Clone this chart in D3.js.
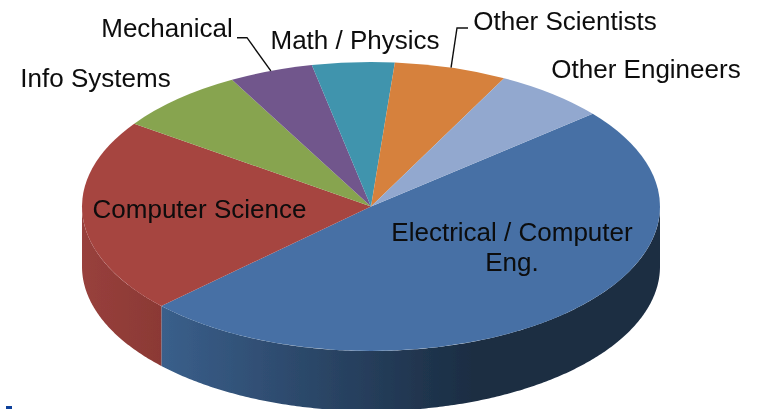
<!DOCTYPE html>
<html><head><meta charset="utf-8">
<script src="https://cdnjs.cloudflare.com/ajax/libs/d3/7.8.5/d3.min.js"></script>
<style>html,body{margin:0;padding:0;background:#fff}svg{display:block}</style>
</head><body><svg id="c" width="758" height="409"></svg>
<script>
const categories=["Electrical / Computer Eng.","Computer Science","Info Systems","Mechanical","Math / Physics","Other Scientists","Other Engineers"];
const values=[49,21.8,7.3,4.7,4.6,6.3,6.3];
const colors=["#4670a5","#a64441","#87a44f","#71568c","#3f94ad","#d6813c","#92a8cf"];
const sideStops=[["#3a5f8b","#1b2d43"],["#98403c","#8b3935"]];

const cx=371,cy=206.5,rx=289,ry=144.5,depth=60;
const startDeg=50.1;
const svg=d3.select("#c");
const defs=svg.append("defs");
defs.append("filter").attr("id","soft").append("feGaussianBlur").attr("stdDeviation",0.45);

const pie=d3.pie().sort(null).value(d=>d)
  .startAngle(startDeg*Math.PI/180).endAngle((startDeg+360)*Math.PI/180);
const arcs=pie(values);
const arc=d3.arc().innerRadius(0).outerRadius(rx);
const px=a=>cx+rx*Math.sin(a), py=a=>cy-ry*Math.cos(a);

const g=svg.append("g").attr("filter","url(#soft)");

// visible side wall: lower half of the ellipse, extruded downward
const side=d3.area().x(d=>px(d)).y0(d=>py(d)).y1(d=>py(d)+depth);
arcs.forEach((s,i)=>{
  const lo=Math.max(s.startAngle,Math.PI/2), hi=Math.min(s.endAngle,Math.PI*1.5);
  if(hi<=lo)return;
  const id="side"+i;
  const grad=defs.append("linearGradient").attr("id",id)
    .attr("gradientUnits","userSpaceOnUse").attr("y1",0).attr("y2",0);
  if(i===0){
    grad.attr("x1",px(s.endAngle)).attr("x2",px(s.endAngle)+310);
  }else{
    grad.attr("x1",cx-rx).attr("x2",px(s.startAngle));
  }
  grad.append("stop").attr("offset",0).attr("stop-color",sideStops[i][0]);
  grad.append("stop").attr("offset",1).attr("stop-color",sideStops[i][1]);
  g.append("path").attr("d",side(d3.range(lo,hi,0.01).concat([hi]))).attr("fill",`url(#${id})`);
});

// top face
g.append("g").attr("transform",`translate(${cx},${cy}) scale(1,${ry/rx})`)
 .selectAll("path").data(arcs).join("path")
 .attr("d",arc).attr("fill",(d,i)=>colors[i]);

// leader lines end on the middle of their slice's rim
const line=d3.line().x(d=>d[0]).y(d=>d[1]);
const leaders=[[3,[[237,37.7],[247,37.7]]],[5,[[468,28],[457,28]]]];
leaders.forEach(([i,pts])=>{
  const m=(arcs[i].startAngle+arcs[i].endAngle)/2;
  g.append("path").attr("d",line(pts.concat([[px(m),py(m)]])))
   .attr("fill","none").attr("stroke","#111").attr("stroke-width",1.4);
});

// labels
const labels=[
 {i:0,lines:["Electrical / Computer","Eng."],x:512,y:241,a:"middle"},
 {i:1,lines:[categories[1]],x:199.5,y:218,a:"middle"},
 {i:2,lines:[categories[2]],x:95.5,y:87,a:"middle"},
 {i:3,lines:[categories[3]],x:167,y:37,a:"middle"},
 {i:4,lines:[categories[4]],x:355,y:49,a:"middle"},
 {i:5,lines:[categories[5]],x:565,y:30,a:"middle"},
 {i:6,lines:[categories[6]],x:646,y:78,a:"middle"}];
labels.forEach(l=>{
  const t=g.append("text").attr("text-anchor",l.a)
   .attr("font-family","'Liberation Sans',Arial,sans-serif").attr("font-size",26).attr("fill","#0a0a0a");
  l.lines.forEach((s,k)=>t.append("tspan").attr("x",l.x).attr("y",l.y+k*30).text(s));
});

// small blue tick at the bottom-left corner
g.append("line").attr("x1",6).attr("x2",12).attr("y1",407.5).attr("y2",407.5)
 .attr("stroke","#0b3f9a").attr("stroke-width",3);
</script></body></html>
